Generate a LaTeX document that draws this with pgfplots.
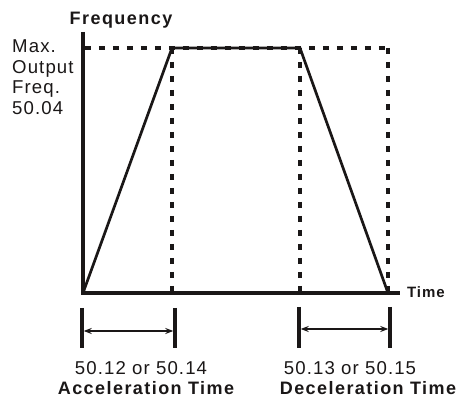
\documentclass[border=0pt]{standalone}
\usepackage{fontspec}
\setmainfont{Liberation Sans}
\newfontfamily\reg{Liberation Sans}[LetterSpace=6]
\newfontfamily\bld{Liberation Sans}[LetterSpace=8]
\newfontfamily\bldt{Liberation Sans}[LetterSpace=6]
\usepackage{pgfplots}
\pgfplotsset{compat=1.18}
\usetikzlibrary{arrows.meta}
\definecolor{ink}{HTML}{1A1717}
\begin{document}
\begin{tikzpicture}
\begin{axis}[hide axis, scale only axis, width=317pt, height=261pt,
  xmin=0, xmax=317, ymin=0, ymax=261, clip=false]
% dashed guides
\addplot[ink, line width=3.3pt, dash pattern=on 6pt off 8pt] coordinates {(2,245) (305,245)};
\addplot[ink, line width=3.3pt, dash pattern=on 6pt off 8pt] coordinates {(89,245) (89,0)};
\addplot[ink, line width=3.3pt, dash pattern=on 6pt off 8pt] coordinates {(217,245) (217,0)};
\addplot[ink, line width=3.3pt, dash pattern=on 6pt off 8pt] coordinates {(305,245) (305,0)};
% trapezoid profile
\addplot[ink, line width=2.7pt, line join=miter] coordinates {(0,0) (89,245) (217,245) (305,0)};
% axes
\addplot[ink, line width=3.6pt, line join=miter] coordinates {(0,261) (0,0) (317,0)};
% brackets
\addplot[ink, line width=3.3pt] coordinates {(-1,-15) (-1,-55)};
\addplot[ink, line width=3.3pt] coordinates {(92,-15) (92,-55)};
\addplot[ink, line width=1.8pt, {Stealth[length=8pt,width=6pt]}-{Stealth[length=8pt,width=6pt]}, shorten <=1.7pt, shorten >=1.7pt] coordinates {(-1,-38) (92,-38)};
\addplot[ink, line width=3.3pt] coordinates {(216,-14) (216,-55)};
\addplot[ink, line width=3.3pt] coordinates {(307,-14) (307,-55)};
\addplot[ink, line width=1.8pt, {Stealth[length=8pt,width=6pt]}-{Stealth[length=8pt,width=6pt]}, shorten <=1.7pt, shorten >=1.7pt] coordinates {(216,-36) (307,-36)};
% texts
\node[anchor=base, text=ink, inner sep=0pt] at (axis cs:38,268) {\fontsize{18}{20}\bld\bfseries Frequency};
\node[anchor=base west, text=ink, inner sep=0pt] at (axis cs:-71,240) {\fontsize{18.6}{21}\reg Max.};
\node[anchor=base west, text=ink, inner sep=0pt] at (axis cs:-71,219) {\fontsize{18.6}{21}\reg Output};
\node[anchor=base west, text=ink, inner sep=0pt] at (axis cs:-71,199) {\fontsize{18.6}{21}\reg Freq.};
\node[anchor=base west, text=ink, inner sep=0pt] at (axis cs:-71,178) {\fontsize{18.6}{21}\reg 50.04};
\node[anchor=base west, text=ink, inner sep=0pt] at (axis cs:324,-5) {\fontsize{15}{17}\bldt\bfseries Time};
\node[anchor=base, text=ink, inner sep=0pt] at (axis cs:58,-82) {\fontsize{18.6}{21}\reg 50.12 or 50.14};
\node[anchor=base, text=ink, inner sep=0pt] at (axis cs:63,-101.5) {\fontsize{18}{20}\bld\bfseries Acceleration Time};
\node[anchor=base, text=ink, inner sep=0pt] at (axis cs:267,-82) {\fontsize{18.6}{21}\reg 50.13 or 50.15};
\node[anchor=base, text=ink, inner sep=0pt] at (axis cs:285,-101.5) {\fontsize{18}{20}\bld\bfseries Deceleration Time};
\coordinate (bl) at (axis cs:-83,-105);
\coordinate (tr) at (axis cs:376,293);
\end{axis}
\pgfresetboundingbox
\useasboundingbox (bl) rectangle (tr);
\end{tikzpicture}
\end{document}
